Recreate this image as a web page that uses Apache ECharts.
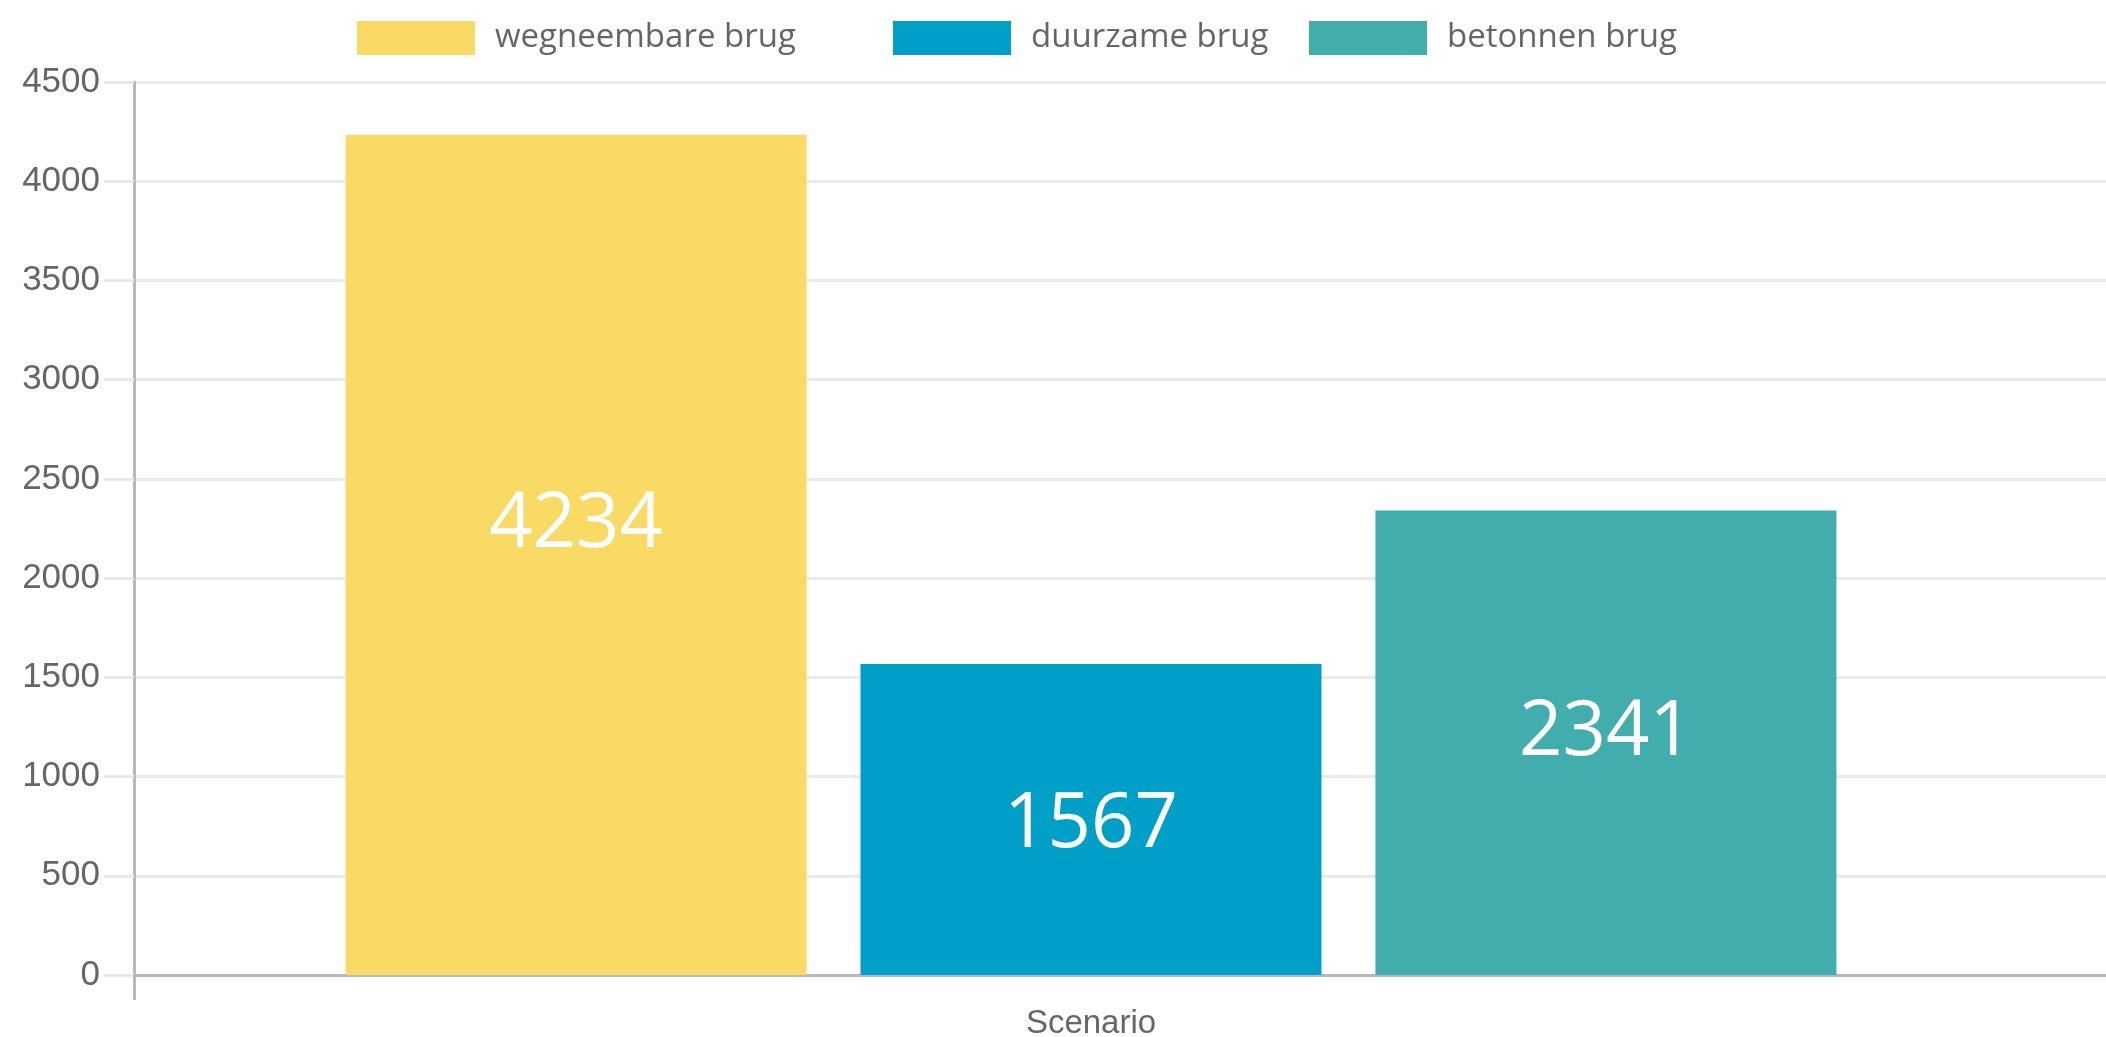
<!DOCTYPE html>
<html>
<head>
<meta charset="utf-8">
<script src="https://cdn.jsdelivr.net/npm/echarts@6/dist/echarts.min.js"></script>
<style>
html,body{margin:0;padding:0;background:#fff;}
#chart{width:2106px;height:1037px;}
</style>
</head>
<body>
<div id="chart"></div>
<script>
const categories = ['Scenario'];
const seriesNames = ['wegneembare brug', 'duurzame brug', 'betonnen brug'];
const wegneembare = [4234];
const duurzame = [1567];
const betonnen = [2341];
const yMin = 0, yMax = 4500, yStep = 500;

const colors = ['#F9DA65', '#009FC7', '#41AEAD'];
const labelOffsets = [[0, -30], [0, 6], [0, -9]];
const values = [wegneembare, duurzame, betonnen];
const legendLefts = [352, 888, 1304];

const chart = echarts.init(document.getElementById('chart'), null, {renderer: 'canvas'});

const option = {
  animation: false,
  backgroundColor: '#ffffff',
  legend: seriesNames.map((n, i) => ({
    data: [n],
    left: legendLefts[i],
    top: 16,
    itemWidth: 118,
    itemHeight: 34,
    icon: 'rect',
    selectedMode: false,
    textStyle: {fontFamily: 'Open Sans', fontSize: 33, color: '#666', padding: [0, 0, 0, 15]}
  })),
  grid: [
    {left: 134, right: 58, top: 82, bottom: 62, containLabel: false, outerBoundsMode: 'none'},
    {left: 134, right: -30, top: 82, bottom: 62, containLabel: false, outerBoundsMode: 'none'}
  ],
  xAxis: [
    {
      type: 'category', gridIndex: 0, data: categories,
      axisLine: {show: false}, axisTick: {show: false},
      axisLabel: {fontFamily: 'Liberation Sans', fontSize: 33, color: '#666', margin: 32},
      splitLine: {show: false}
    },
    {
      type: 'category', gridIndex: 1, data: categories, boundaryGap: true,
      axisLine: {show: true, lineStyle: {color: '#b8b8b8', width: 3}},
      axisTick: {show: true, length: 25, lineStyle: {color: '#b8b8b8', width: 3}},
      axisLabel: {show: false},
      splitLine: {show: false}
    }
  ],
  yAxis: [
    {
      type: 'value', gridIndex: 0, min: yMin, max: yMax, interval: yStep,
      axisLine: {show: false}, axisTick: {show: false}, splitLine: {show: false},
      axisLabel: {fontFamily: 'Liberation Sans', fontSize: 35, color: '#666', margin: 34,
        formatter: v => String(v)}
    },
    {
      type: 'value', gridIndex: 1, min: yMin, max: yMax, interval: yStep,
      axisLine: {show: true, lineStyle: {color: '#b8b8b8', width: 3}},
      axisTick: {show: true, length: 30, lineStyle: {color: '#e8e8e8', width: 3}},
      axisLabel: {show: false},
      splitLine: {show: true, lineStyle: {color: '#ebebeb', width: 3}}
    }
  ],
  series: seriesNames.map((n, i) => ({
    name: n,
    type: 'bar',
    xAxisIndex: 0,
    yAxisIndex: 0,
    data: values[i],
    barWidth: 461,
    barGap: '11.7%',
    itemStyle: {color: colors[i]},
    z: 3,
    label: {
      show: true,
      position: 'inside',
      offset: labelOffsets[i],
      color: '#ffffff',
      fontFamily: 'Open Sans',
      fontSize: 76,
      fontWeight: 'normal'
    }
  }))
};

chart.setOption(option);
</script>
</body>
</html>
